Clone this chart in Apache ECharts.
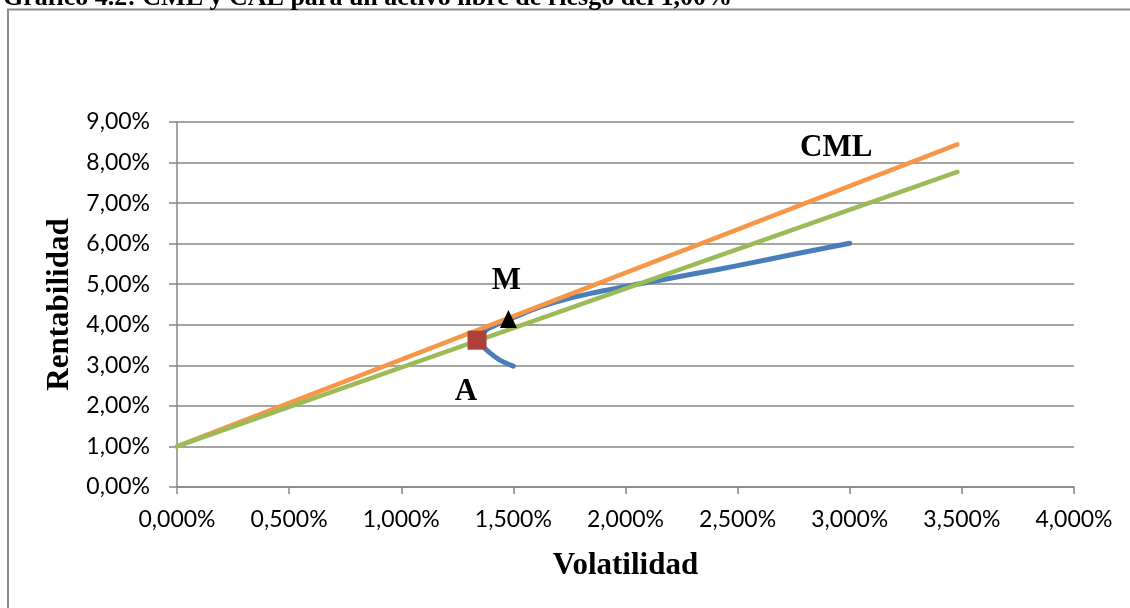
<!DOCTYPE html>
<html>
<head>
<meta charset="utf-8">
<script src="https://cdn.jsdelivr.net/npm/echarts@6/dist/echarts.min.js"></script>
<style>
  html, body { margin: 0; padding: 0; background: #fff; }
  #chart { width: 1130px; height: 608px; }
</style>
</head>
<body>
<div id="chart"></div>
<script>
// Volatilidad (x) y rentabilidad (y), ambas en %
const frontierX = [1.50, 1.44, 1.39, 1.36, 1.35, 1.36, 1.38, 1.42, 1.478, 1.55, 1.619, 1.72, 1.85, 2.065, 2.30, 2.511, 2.75, 3.00];
const frontierY = [2.98, 3.13, 3.33, 3.50, 3.62, 3.75, 3.88, 3.99, 4.13, 4.29, 4.44, 4.61, 4.78, 5.01, 5.25, 5.47, 5.74, 6.01];

const cmlX = [0, 3.48];
const cmlY = [1.00, 8.45];

const calX = [0, 3.48];
const calY = [1.00, 7.77];

const portfolioA = [1.338, 3.62];
const portfolioM = [1.478, 4.14];

const xTicks = { min: 0, max: 4, step: 0.5 };
const yTicks = { min: 0, max: 9, step: 1 };

const titleText = 'Gráfico 4.2: CML y CAL para un activo libre de riesgo del 1,00%';
const xName = 'Volatilidad';
const yName = 'Rentabilidad';

const pairs = (xs, ys) => xs.map((x, i) => [x, ys[i]]);

const serif = '"Liberation Serif", "Times New Roman", serif';
const sans = 'Lato, "Open Sans", sans-serif';
const gridGray = '#878787';

const chart = echarts.init(document.getElementById('chart'), null, { renderer: 'canvas' });

chart.setOption({
  animation: false,
  backgroundColor: '#ffffff',
  graphic: [
    {
      type: 'rect',
      shape: { x: 8, y: 9.5, width: 1160, height: 640 },
      style: { fill: 'none', stroke: '#8c8c8c', lineWidth: 2 },
      silent: true
    },
    {
      type: 'text',
      left: 3,
      top: -15,
      style: {
        text: titleText,
        font: 'bold 26px ' + serif,
        fill: '#000'
      },
      silent: true
    },
    {
      type: 'text',
      left: 800,
      top: 132,
      style: {
        text: 'CML',
        font: 'bold 31px ' + serif,
        fill: '#000'
      },
      silent: true
    }
  ],
  grid: { left: 177, right: 56, top: 122, bottom: 121, containLabel: false },
  xAxis: {
    type: 'value',
    min: xTicks.min,
    max: xTicks.max,
    interval: xTicks.step,
    name: xName,
    nameLocation: 'middle',
    nameGap: 63,
    nameTextStyle: { fontFamily: serif, fontWeight: 'bold', fontSize: 31, color: '#000' },
    axisLine: { show: true, lineStyle: { color: gridGray, width: 1.5 } },
    axisTick: { show: true, length: 7, lineStyle: { color: gridGray, width: 1.5 } },
    axisLabel: {
      margin: 21,
      fontFamily: sans,
      fontSize: 23,
      color: '#000',
      formatter: v => v.toFixed(3).replace('.', ',') + '%'
    },
    splitLine: { show: false }
  },
  yAxis: {
    type: 'value',
    min: yTicks.min,
    max: yTicks.max,
    interval: yTicks.step,
    name: yName,
    nameLocation: 'middle',
    nameGap: 99,
    nameTextStyle: { fontFamily: serif, fontWeight: 'bold', fontSize: 31, color: '#000' },
    axisLine: { show: true, lineStyle: { color: gridGray, width: 1.5 } },
    axisTick: { show: true, length: 8, lineStyle: { color: gridGray, width: 1.5 } },
    axisLabel: {
      margin: 27,
      fontFamily: sans,
      fontSize: 23,
      color: '#000',
      formatter: v => v.toFixed(2).replace('.', ',') + '%'
    },
    splitLine: { show: true, lineStyle: { color: gridGray, width: 1.5 } }
  },
  series: [
    {
      name: 'Frontera',
      type: 'line',
      data: pairs(frontierX, frontierY),
      showSymbol: false,
      smooth: 0.3,
      lineStyle: { color: '#4A7EBB', width: 5, cap: 'round', join: 'round' },
      z: 2
    },
    {
      name: 'CML',
      type: 'line',
      data: pairs(cmlX, cmlY),
      showSymbol: false,
      lineStyle: { color: '#F79646', width: 4.5, cap: 'round' },
      z: 3
    },
    {
      name: 'CAL',
      type: 'line',
      data: pairs(calX, calY),
      showSymbol: false,
      lineStyle: { color: '#9BBB59', width: 4.5, cap: 'round' },
      z: 4
    },
    {
      name: 'A',
      type: 'scatter',
      data: [portfolioA],
      symbol: 'rect',
      symbolSize: 19,
      itemStyle: { color: '#AE403C', opacity: 1 },
      label: {
        show: true,
        formatter: 'A',
        position: 'bottom',
        distance: 27,
        offset: [-11, 0],
        fontFamily: serif,
        fontWeight: 'bold',
        fontSize: 31,
        color: '#000'
      },
      z: 5
    },
    {
      name: 'M',
      type: 'scatter',
      data: [portfolioM],
      symbol: 'triangle',
      symbolSize: [17, 18],
      itemStyle: { color: '#000', opacity: 1 },
      label: {
        show: true,
        formatter: 'M',
        position: 'top',
        distance: 14,
        offset: [-2, 0],
        fontFamily: serif,
        fontWeight: 'bold',
        fontSize: 31,
        color: '#000'
      },
      z: 6
    }
  ]
});
</script>
</body>
</html>
